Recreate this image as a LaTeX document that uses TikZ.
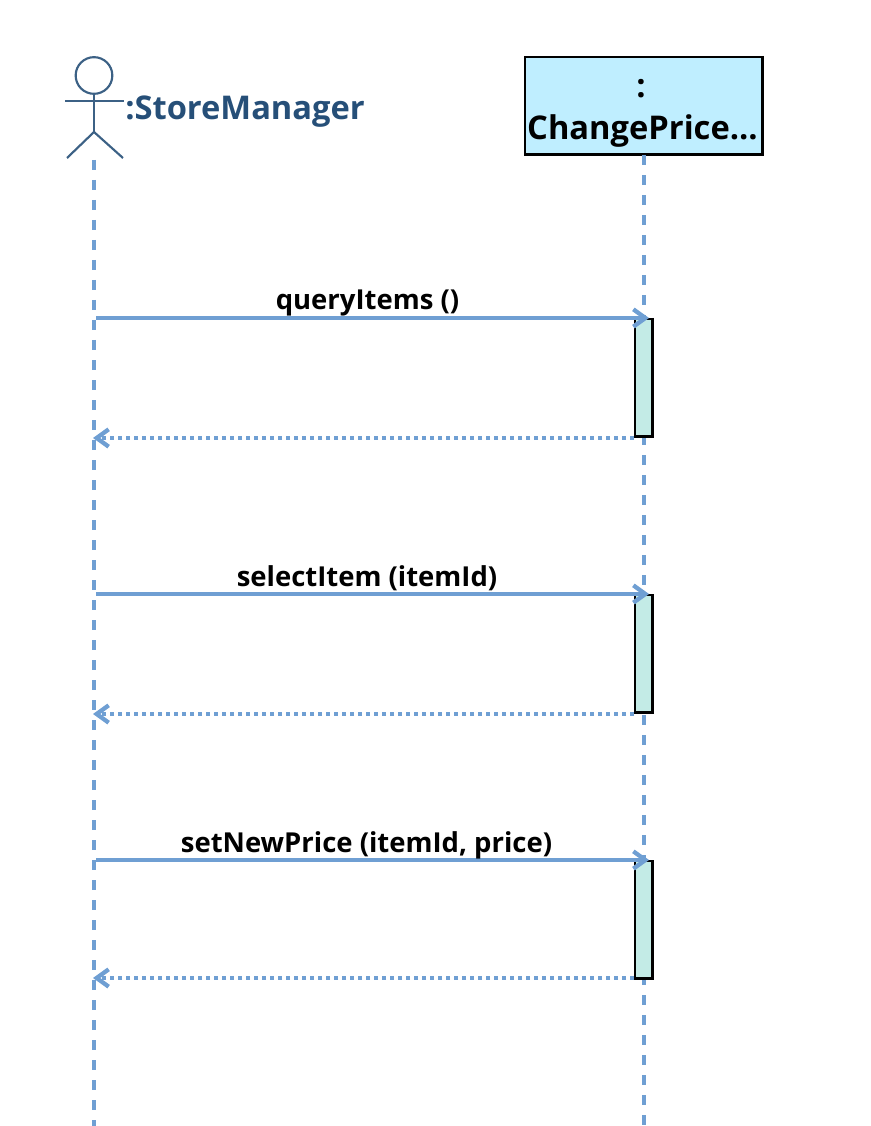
\documentclass[tikz,border=0pt]{standalone}
\usepackage{fontspec}
\setmainfont{Open Sans}
\usetikzlibrary{arrows.meta}
\definecolor{lifeblue}{HTML}{6F9FD3}
\definecolor{actorblue}{HTML}{264F78}
\definecolor{boxblue}{HTML}{BFEEFF}
\definecolor{activ}{HTML}{C3EBE6}
\tikzset{
  x=0.75pt,y=-0.75pt,
  lifeline/.style={draw=lifeblue,line width=2.7pt,dash pattern=on 7.5pt off 7.5pt},
  callmsg/.style={draw=lifeblue,line width=3.2pt,-{Straight Barb[length=9pt,width=13pt,line width=3.2pt]}},
  retmsg/.style={draw=lifeblue,line width=3.2pt,dash pattern=on 3pt off 3pt,-{Straight Barb[length=9pt,width=13pt,line width=3.2pt,sep=0pt]}},
  actorline/.style={draw=actorblue!90!white,line width=1.6pt},
  activation/.style={draw=black,fill=activ,line width=1.2pt,minimum width=13pt,inner sep=0pt,anchor=north},
  heavyedge/.style={draw=black,line width=1.7pt},
  msglabel/.style={font=\fontsize{20.6}{24}\selectfont\bfseries,text=black,inner sep=0pt,anchor=base},
}
\begin{document}
\begin{tikzpicture}
\useasboundingbox (0,0) rectangle (870,1126);
\node[circle,draw=actorblue!90!white,line width=1.6pt,minimum size=27.5pt,inner sep=0pt] (head) at (94,75.5) {};
\coordinate (hip) at (94,132);
\coordinate (armL) at (65,101);
\coordinate (armR) at (124,101);
\coordinate (footL) at (67,158);
\coordinate (footR) at (123,158);
\coordinate (leftEnd) at (94,1126);
\coordinate (leftTop) at (94,160);
\draw[actorline] (head.south) -- (hip);
\draw[actorline] (armL) -- (armR);
\draw[actorline] (footL) -- (hip) -- (footR);
\node[font=\fontsize{24.5}{28}\selectfont\bfseries,text=actorblue,inner sep=0pt,anchor=base west] (actorname) at (125,120) {:StoreManager};
\node[draw=black,fill=boxblue,line width=1.3pt,minimum width=177.5pt,minimum height=73pt,inner sep=0pt] (box) at (643.5,105.5) {};
\draw[heavyedge] (box.north east) -- (box.south east) -- (box.south west);
\node[font=\fontsize{24.5}{28}\selectfont\bfseries,text=black,inner sep=0pt,anchor=base] (boxcolon) at (641,97.5) {:};
\node[font=\fontsize{24.5}{28}\selectfont\bfseries,text=black,inner sep=0pt,anchor=base] (boxname) at (642.5,140) {ChangePrice...};
\coordinate (rightEnd) at (644,1126);
\path[lifeline] (box.south -| rightEnd) -- (rightEnd);
\path[lifeline] (leftTop) -- (leftEnd);
% activations
\node[activation,minimum height=88pt] (a1) at (643.5,318) {};
\node[activation,minimum height=88pt] (a2) at (643.5,594) {};
\node[activation,minimum height=88pt] (a3) at (643.5,860) {};
\draw[heavyedge] (a1.north east) -- (a1.south east) -- (a1.south west);
\draw[heavyedge] (a2.north east) -- (a2.south east) -- (a2.south west);
\draw[heavyedge] (a3.north east) -- (a3.south east) -- (a3.south west);
% messages
\coordinate (s1) at (96,318);\coordinate (r1) at (93,438);
\coordinate (s2) at (96,594);\coordinate (r2) at (93,714);
\coordinate (s3) at (96,860);\coordinate (r3) at (93,978);
\coordinate (t1) at (649,318);\coordinate (u1) at (634,438);
\coordinate (t2) at (649,594);\coordinate (u2) at (634,714);
\coordinate (t3) at (649,860);\coordinate (u3) at (634,978);
\path[callmsg] (s1) -- (t1);
\path[retmsg] (u1) -- (r1);
\path[callmsg] (s2) -- (t2);
\path[retmsg] (u2) -- (r2);
\path[callmsg] (s3) -- (t3);
\path[retmsg] (u3) -- (r3);
\node[msglabel] (m1) at (367.5,310) {queryItems ()};
\node[msglabel] (m2) at (367,586) {selectItem (itemId)};
\node[msglabel] (m3) at (366.5,852) {setNewPrice (itemId, price)};
\end{tikzpicture}
\end{document}
